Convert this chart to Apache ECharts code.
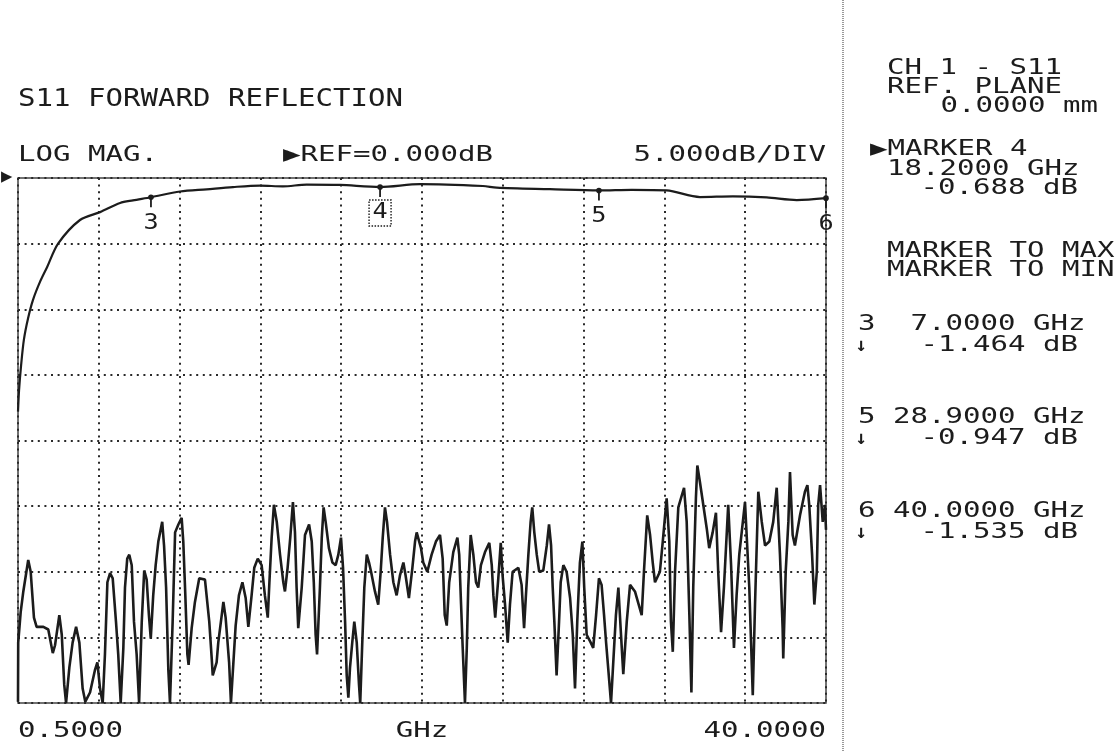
<!DOCTYPE html>
<html>
<head>
<meta charset="utf-8">
<script src="https://cdn.jsdelivr.net/npm/echarts@6/dist/echarts.min.js"></script>
<style>
html,body{margin:0;padding:0;background:#fff;}
#chart{width:1120px;height:752px;}
</style>
</head>
<body>
<div id="chart"></div>
<script>
// ---------- DATA ----------
// Upper trace (S11 forward reflection, near 0 dB)
const upperFreq = [0.5, 0.55, 0.65, 0.79, 0.99, 1.23, 1.58, 1.92, 2.46, 3.53, 4.51, 5.49, 6.12, 7.0, 8.42, 9.72, 11.01, 12.33, 13.45, 14.61, 16.24, 18.2, 20.15, 23.23, 23.9, 26.5, 28.9, 30.5, 32.21, 33.84, 35.45, 37.1, 38.57, 40.0];
const upperDb = [-17.8, -16.2, -14.3, -12.3, -10.7, -9.3, -7.9, -6.8, -5.0, -3.2, -2.6, -1.9, -1.7, -1.464, -1.03, -0.86, -0.69, -0.58, -0.64, -0.5, -0.53, -0.688, -0.47, -0.61, -0.73, -0.85, -0.947, -0.9, -0.95, -1.45, -1.4, -1.48, -1.68, -1.535];

// Lower trace (noisy, -20 .. -40 dB)
const lowerFreq = [0.50,0.51,0.63,0.76,1.00,1.12,1.28,1.41,1.74,1.98,2.20,2.31,2.52,2.64,2.76,2.85,3.01,3.17,3.34,3.50,3.66,3.79,4.02,4.26,4.38,4.51,4.64,4.75,4.87,5.00,5.13,5.29,5.40,5.52,5.65,5.73,5.84,5.94,6.06,6.17,6.30,6.42,6.55,6.67,6.79,6.90,6.99,7.11,7.23,7.36,7.55,7.64,7.74,7.85,7.93,8.06,8.18,8.34,8.50,8.58,8.68,8.78,8.84,8.99,9.15,9.36,9.64,9.85,9.97,10.02,10.21,10.29,10.46,10.54,10.65,10.82,10.91,11.03,11.14,11.30,11.47,11.63,11.76,11.92,12.05,12.22,12.41,12.57,12.71,12.79,12.90,13.01,13.15,13.31,13.47,13.55,13.68,13.81,13.94,14.04,14.12,14.20,14.37,14.53,14.73,14.86,14.96,15.05,15.12,15.26,15.35,15.44,15.54,15.70,15.87,16.03,16.16,16.29,16.39,16.49,16.57,16.65,16.73,16.84,16.94,17.06,17.17,17.23,17.33,17.43,17.55,17.66,17.76,17.95,18.11,18.23,18.33,18.44,18.54,18.69,18.85,19.01,19.17,19.34,19.45,19.61,19.78,19.91,19.99,20.20,20.31,20.51,20.72,20.93,21.13,21.26,21.36,21.46,21.58,21.78,21.98,22.07,22.16,22.24,22.35,22.44,22.51,22.63,22.76,22.89,23.00,23.13,23.33,23.54,23.66,23.74,23.83,23.98,24.10,24.19,24.31,24.44,24.55,24.68,24.96,25.12,25.24,25.33,25.45,25.56,25.64,25.74,25.86,25.98,26.18,26.35,26.46,26.56,26.64,26.72,26.83,26.95,27.03,27.16,27.32,27.49,27.62,27.73,27.84,27.97,28.09,28.18,28.30,28.50,28.62,28.76,28.90,29.03,29.15,29.25,29.36,29.49,29.60,29.73,29.85,29.96,30.09,30.26,30.42,30.66,30.99,31.10,31.26,31.40,31.53,31.64,31.88,32.02,32.21,32.34,32.42,32.51,32.62,32.78,33.06,33.19,33.32,33.42,33.51,33.64,33.71,33.84,34.00,34.17,34.29,34.46,34.62,34.73,34.87,35.01,35.22,35.36,35.50,35.63,35.76,36.04,36.25,36.42,36.53,36.69,36.86,37.02,37.23,37.42,37.59,37.75,37.88,37.91,38.03,38.16,38.24,38.37,38.48,38.73,38.97,39.09,39.18,39.32,39.43,39.55,39.62,39.71,39.84,39.95,40.00];
const lowerDb = [-39.9,-35.4,-33.1,-31.5,-29.1,-30.0,-33.5,-34.2,-34.2,-34.4,-36.2,-35.6,-33.3,-34.8,-38.6,-40.0,-37.3,-35.4,-34.2,-35.4,-38.9,-39.9,-39.2,-37.5,-36.9,-38.9,-40.0,-36.3,-30.8,-30.1,-30.5,-33.8,-36.3,-40.0,-35.8,-31.2,-29.0,-28.7,-29.5,-33.8,-36.3,-40.0,-33.8,-29.9,-30.6,-33.3,-35.1,-31.8,-29.5,-27.7,-26.2,-28.0,-31.2,-37.5,-40.0,-33.8,-27.0,-26.4,-25.9,-27.7,-31.8,-36.3,-37.1,-34.3,-32.3,-30.5,-30.6,-33.8,-36.6,-37.9,-36.9,-35.4,-33.3,-32.3,-33.5,-36.9,-40.0,-36.9,-34.1,-31.8,-30.8,-32.0,-34.2,-31.8,-29.7,-29.0,-29.5,-31.8,-33.5,-30.8,-27.4,-24.9,-26.2,-28.7,-30.8,-31.5,-29.7,-27.4,-24.7,-27.0,-31.2,-34.3,-31.2,-27.2,-26.4,-27.7,-30.8,-34.8,-36.3,-31.2,-27.4,-25.1,-26.2,-28.2,-29.3,-29.5,-28.7,-27.4,-29.7,-33.8,-37.9,-39.6,-37.3,-35.4,-33.8,-35.4,-38.6,-40.0,-35.4,-31.2,-28.7,-29.3,-30.0,-31.5,-32.5,-30.0,-27.4,-25.1,-26.2,-28.7,-30.8,-31.8,-30.3,-29.3,-30.3,-32.0,-29.7,-27.7,-27.0,-28.2,-29.3,-30.0,-28.7,-27.7,-27.2,-29.0,-33.3,-34.1,-30.8,-28.5,-27.4,-28.7,-32.5,-35.8,-40.0,-35.8,-31.2,-27.2,-28.7,-30.8,-31.2,-29.5,-28.5,-27.8,-29.5,-31.8,-33.5,-30.5,-27.8,-30.3,-32.5,-35.4,-32.5,-30.0,-29.7,-31.0,-34.3,-31.8,-28.7,-26.2,-25.1,-27.0,-28.7,-30.0,-29.9,-28.0,-26.4,-28.0,-31.2,-33.8,-37.9,-33.8,-30.8,-29.5,-30.0,-32.0,-34.8,-38.9,-33.8,-29.3,-27.7,-31.2,-34.8,-35.4,-35.8,-33.3,-30.5,-31.0,-33.3,-35.4,-37.5,-40.0,-36.9,-33.3,-31.2,-34.3,-37.8,-33.8,-31.0,-31.5,-33.3,-30.0,-25.7,-27.2,-29.3,-30.8,-30.0,-27.7,-24.4,-27.7,-33.8,-36.1,-30.0,-25.1,-23.6,-26.2,-33.3,-39.2,-31.2,-24.4,-21.9,-23.2,-24.9,-26.7,-28.2,-27.0,-25.5,-30.0,-34.6,-31.2,-24.9,-29.5,-35.8,-31.8,-28.7,-24.7,-31.2,-39.4,-32.5,-23.9,-26.2,-28.0,-27.7,-26.2,-23.6,-28.7,-34.3,-36.6,-30.0,-26.2,-22.4,-27.2,-28.0,-25.7,-23.9,-23.4,-24.9,-28.7,-32.5,-30.0,-24.9,-23.4,-26.2,-24.9,-26.8];

// Markers
const markerNames = ['3', '4', '5', '6'];
const markerFreq = [7.0, 18.2, 28.9, 40.0];
const markerDb = [-1.464, -0.688, -0.947, -1.535];
const activeMarker = '4';

// Axis / annotation texts
const freqStart = '0.5000';
const freqStop = '40.0000';
const freqUnit = 'GHz';
const titleText = 'S11 FORWARD REFLECTION';
const formatText = 'LOG MAG.';
const refText = '▶REF=0.000dB';
const scaleText = '5.000dB/DIV';
const panelLines = ['CH 1 - S11', 'REF. PLANE', '0.0000 mm', '▶MARKER 4', '18.2000 GHz', '-0.688 dB', 'MARKER TO MAX', 'MARKER TO MIN'];
const markerRows = ['3  7.0000 GHz', '5 28.9000 GHz', '6 40.0000 GHz'];
const markerRowDb = ['-1.464 dB', '-0.947 dB', '-1.535 dB'];

// ---------- CHART ----------
const INK = '#1c1c1c';
const FONT = '"DejaVu Sans Mono", "Liberation Mono", monospace';
const PITCH = 17.5;

function txt(s, x, y, size, align) {
  return {
    type: 'text', x: x, y: y,
    scaleX: PITCH / (0.602 * size),
    style: {
      text: s, font: size + 'px ' + FONT, fill: INK,
      align: align || 'left', textAlign: align || 'left',
      verticalAlign: 'middle', textVerticalAlign: 'middle'
    }
  };
}

const chart = echarts.init(document.getElementById('chart'), null, { renderer: 'canvas' });

const upperData = upperFreq.map((f, i) => [f, upperDb[i]]);
const lowerData = lowerFreq.map((f, i) => [f, lowerDb[i]]);
const markerData = markerFreq.map((f, i) => [f, markerDb[i], markerNames[i]]);

const dotted = { color: '#2a2a2a', width: 2, type: [2, 4.6] };

const graphics = [
  txt(titleText, 18, 99, 25, 'left'),
  txt(formatText, 18, 155, 21.5, 'left'),
  txt(refText, 283, 155, 21.5, 'left'),
  txt(scaleText, 826, 155, 21.5, 'right'),
  txt(freqStart, 18, 731, 21.5, 'left'),
  txt(freqUnit, 422, 731, 21.5, 'center'),
  txt(freqStop, 826, 731, 21.5, 'right'),
  { type: 'text', x: 1, y: 177, style: { text: '▶', font: '19px ' + FONT, fill: INK, align: 'left', textAlign: 'left', verticalAlign: 'middle', textVerticalAlign: 'middle' } },
  { type: 'line', shape: { x1: 843, y1: 0, x2: 843, y2: 752 }, style: { stroke: '#777', lineWidth: 1.5, lineDash: [1, 1] } },
  txt(panelLines[0], 887, 69, 20.5, 'left'),
  txt(panelLines[1], 887, 88, 20.5, 'left'),
  txt(panelLines[2], 1098, 107, 20.5, 'right'),
  txt(panelLines[3], 870, 150, 20.5, 'left'),
  txt(panelLines[4], 887, 170, 20.5, 'left'),
  txt(panelLines[5], 1078, 189, 20.5, 'right'),
  txt(panelLines[6], 887, 252, 20.5, 'left'),
  txt(panelLines[7], 887, 271, 20.5, 'left')
];
const rowY = [325, 418, 512];
markerRows.forEach((r, i) => {
  graphics.push(txt(r, 858, rowY[i], 20.5, 'left'));
  graphics.push(txt(markerRowDb[i], 1078, rowY[i] + 21, 20.5, 'right'));
  graphics.push({ type: 'text', x: 861, y: rowY[i] + 21, style: { text: '↓', font: 'bold 19px ' + FONT, fill: INK, align: 'center', textAlign: 'center', verticalAlign: 'middle', textVerticalAlign: 'middle' } });
});

const option = {
  backgroundColor: '#fff',
  animation: false,
  grid: { left: 18, right: 294, top: 178, bottom: 49, show: true, borderColor: '#444', borderWidth: 1.5 },
  xAxis: [
    { type: 'value', min: 0.5, max: 40, show: false },
    { type: 'value', min: 0, max: 10, interval: 1, position: 'bottom',
      axisLine: { show: false }, axisTick: { show: false }, axisLabel: { show: false },
      splitLine: { show: true, lineStyle: dotted } }
  ],
  yAxis: {
    type: 'value', min: -40, max: 0, interval: 5,
    axisLine: { show: false }, axisTick: { show: false }, axisLabel: { show: false },
    splitLine: { show: true, lineStyle: dotted }
  },
  series: [
    { type: 'line', xAxisIndex: 0, data: lowerData, showSymbol: false, lineStyle: { color: INK, width: 2.6 }, z: 3 },
    { type: 'line', xAxisIndex: 0, data: upperData, showSymbol: false, smooth: 0.3, lineStyle: { color: INK, width: 2.2 }, z: 3 },
    {
      type: 'custom', xAxisIndex: 0, data: markerData, clip: false, z: 5,
      renderItem: function (params, api) {
        const p = api.coord([api.value(0), api.value(1)]);
        const name = markerNames[params.dataIndex];
        const ly = p[1] + 26;
        const children = [
          { type: 'circle', shape: { cx: p[0], cy: p[1], r: 2.8 }, style: { fill: INK } },
          { type: 'line', shape: { x1: p[0], y1: p[1], x2: p[0], y2: p[1] + 10 }, style: { stroke: INK, lineWidth: 1.8 } },
          { type: 'text', x: p[0], y: ly, scaleX: 1.2,
            style: { text: name, font: '21px ' + FONT, fill: INK, align: 'center', textAlign: 'center', verticalAlign: 'middle', textVerticalAlign: 'middle' } }
        ];
        if (name === activeMarker) {
          children.push({ type: 'rect', shape: { x: p[0] - 11, y: ly - 13, width: 22, height: 26 },
            style: { fill: 'none', stroke: INK, lineWidth: 1.4, lineDash: [1.5, 1.5] } });
        }
        return { type: 'group', children: children };
      }
    }
  ],
  graphic: graphics
};
chart.setOption(option);
</script>
</body>
</html>
